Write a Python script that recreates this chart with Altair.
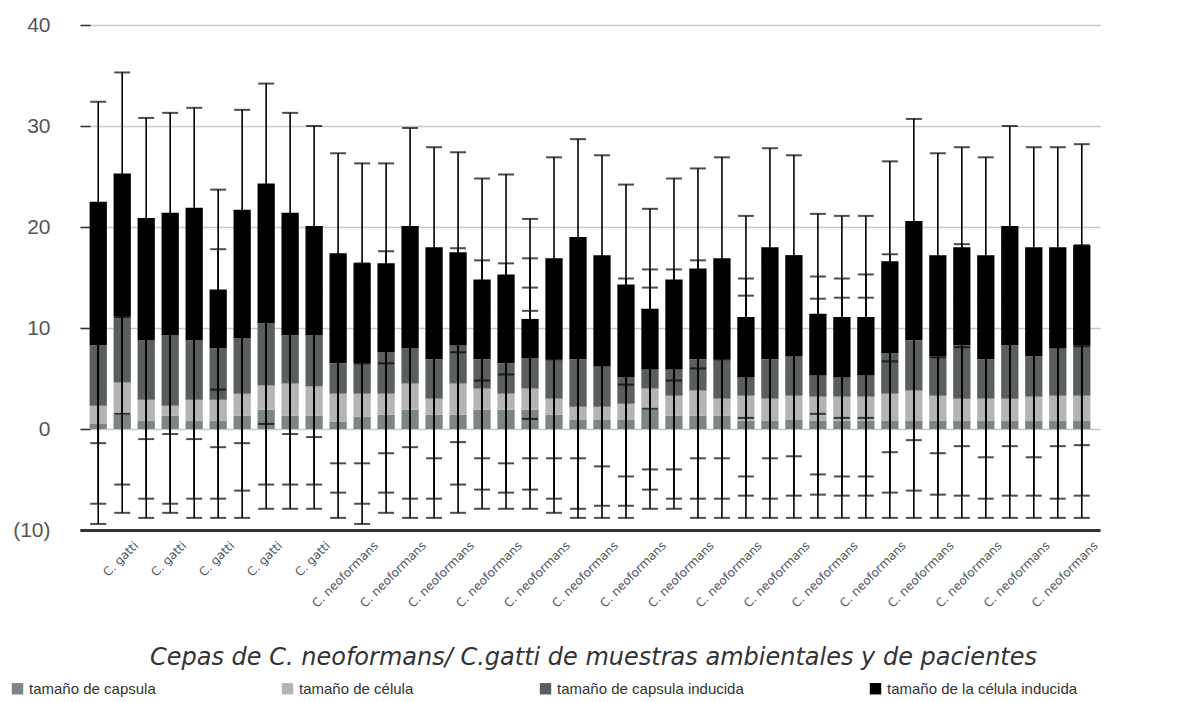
import altair as alt
import pandas as pd

# Strain groups (one bar per strain)
especie = ["C. gatti"] * 10 + ["C. neoformans"] * 32

series = [
    "tamaño de capsula",
    "tamaño de célula",
    "tamaño de capsula inducida",
    "tamaño de la célula inducida",
]
colores = ["#7e8684", "#b4b4b4", "#5a5e5d", "#000000"]

# Stacked segment heights per strain
capsula = [0.5, 1.4, 0.8, 1.3, 0.8, 0.8, 1.3, 1.9, 1.3, 1.3, 0.7, 1.2, 1.4, 1.9,
           1.4, 1.4, 1.9, 1.9, 1.9, 1.4, 0.9, 0.9, 0.9, 1.9, 1.3, 1.3, 1.3, 0.8,
           0.8, 0.9, 0.8, 0.8, 0.8, 0.8, 0.8, 0.8, 0.8, 0.8, 0.8, 0.8, 0.8, 0.8]
celula = [1.8, 3.2, 2.1, 1.0, 2.1, 2.1, 2.2, 2.4, 3.2, 2.9, 2.8, 2.3, 2.1, 2.6,
          1.6, 3.1, 2.1, 1.6, 2.1, 1.6, 1.3, 1.3, 1.6, 2.1, 2.0, 2.5, 1.7, 2.5,
          2.2, 2.4, 2.4, 2.4, 2.4, 2.7, 3.0, 2.5, 2.2, 2.2, 2.2, 2.4, 2.5, 2.5]
capsula_ind = [6.0, 6.6, 5.9, 7.0, 5.9, 5.1, 5.5, 6.2, 4.8, 5.1, 3.0, 3.0, 4.1, 3.5,
               3.9, 3.8, 2.9, 3.0, 3.0, 3.9, 4.7, 4.0, 2.6, 1.9, 2.6, 3.1, 3.9, 1.8,
               3.9, 3.9, 2.1, 1.9, 2.1, 4.0, 5.0, 3.9, 5.3, 3.9, 5.3, 4.0, 4.7, 5.0]
celula_ind = [14.2, 14.1, 12.1, 12.1, 13.1, 5.8, 12.7, 13.8, 12.1, 10.8, 10.9, 9.9, 8.8, 12.1,
              11.1, 9.2, 7.9, 8.8, 3.9, 10.0, 12.1, 11.0, 9.2, 6.0, 8.9, 9.0, 10.0, 6.0,
              11.1, 10.0, 6.1, 6.0, 5.8, 9.1, 11.8, 10.0, 9.7, 10.3, 11.8, 10.8, 10.0, 9.9]

# Standard deviations for each segment
err_capsula = [9.9, 9.7, 9.6, 9.6, 9.6, 9.6, 10.1, 9.8, 9.2, 9.2, 9.5, 10.6, 9.7, 10.7,
               10.2, 9.7, 9.8, 9.8, 9.8, 9.7, 9.7, 9.7, 9.7, 9.8, 9.2, 10.1, 10.1, 9.6,
               9.6, 9.7, 9.6, 9.6, 9.6, 9.6, 9.6, 9.6, 9.6, 9.6, 9.6, 9.6, 9.6, 9.6]
err_celula = [9.7, 10.1, 9.8, 9.7, 9.8, 9.8, 9.6, 9.8, 10.0, 9.7, 9.8, 10.9, 9.8, 11.4,
              9.9, 10.0, 10.0, 9.8, 10.0, 9.9, 10.1, 9.8, 10.1, 10.0, 10.2, 10.7, 9.9, 9.9,
              9.9, 9.9, 9.7, 9.8, 9.8, 9.8, 9.9, 9.8, 9.6, 9.9, 9.6, 9.8, 10.2, 9.9]
err_capsula_ind = [9.7, 9.7, 9.8, 9.8, 9.8, 9.8, 10.4, 10.0, 9.8, 10.1, 9.9, 9.9, 10.0, 9.8,
                   9.8, 9.6, 9.8, 9.9, 9.9, 9.8, 9.8, 9.9, 9.8, 9.9, 9.9, 9.8, 9.8, 9.8,
                   9.8, 9.9, 9.8, 9.8, 10.0, 9.8, 9.9, 9.6, 10.0, 9.7, 10.0, 10.0, 9.7, 9.9]
err_celula_ind = [9.9, 10.0, 9.9, 9.9, 9.9, 9.9, 9.9, 9.9, 9.9, 9.9, 9.9, 9.9, 9.9, 9.7,
                  9.9, 9.9, 10.0, 9.9, 9.9, 10.0, 9.7, 9.9, 9.9, 9.9, 10.0, 9.9, 10.0, 10.0,
                  9.8, 9.9, 9.9, 10.0, 10.0, 9.9, 10.1, 10.1, 9.9, 9.7, 9.9, 9.9, 9.9, 10.0]

y_ticks = [-10, 0, 10, 20, 30, 40]

# Unique id per strain; the label shows only the species name
cepas = [f"{e}#{i + 1:02d}" for i, e in enumerate(especie)]

valores = [capsula, celula, capsula_ind, celula_ind]
errores = [err_capsula, err_celula, err_capsula_ind, err_celula_ind]

filas, filas_err = [], []
for i, c in enumerate(cepas):
    base = 0.0
    for k in range(4):
        v = valores[k][i]
        tope = base + v
        filas.append({"cepa": c, "serie": series[k], "orden": k, "valor": v})
        filas_err.append({"cepa": c, "serie": series[k],
                          "lo": tope - errores[k][i], "hi": tope + errores[k][i]})
        base = tope

df = pd.DataFrame(filas)
df_err = pd.DataFrame(filas_err)

x_scale = alt.Scale(paddingInner=0.28, paddingOuter=0.4)
y_scale = alt.Scale(domain=[-10, 40], nice=False, zero=False)

x_axis = alt.Axis(
    values=cepas[1::2],
    labelExpr="split(datum.value, '#')[0]",
    labelAngle=-45, labelAlign="right", labelBaseline="middle",
    labelOffset=14, labelPadding=13,
    labelFont="DejaVu Sans", labelFontSize=12, labelColor="#555555",
    ticks=False, grid=False,
    domainColor="#333333", domainWidth=3,
    title="Cepas de C. neoformans/ C.gatti de muestras ambientales y de pacientes",
    titleFont="DejaVu Sans", titleFontSize=24, titleFontStyle="italic",
    titleFontWeight="normal", titleColor="#333333",
    titleX=513, titleY=115, titleAlign="center", titleBaseline="top",
)

y_axis = alt.Axis(
    values=y_ticks, title=None,
    labelExpr="datum.value < 0 ? '(' + abs(datum.value) + ')' : datum.label",
    labelFont="Liberation Sans", labelFontSize=21, labelColor="#555555",
    labelPadding=30, offset=-10,
    tickSize=10, tickColor="#333333", tickWidth=1.5,
    domain=False, gridColor="#c8c8c8", gridWidth=1.5,
)

x_enc = alt.X("cepa:N", sort=cepas, scale=x_scale, axis=x_axis)

barras = alt.Chart(df).mark_bar().encode(
    x=x_enc,
    y=alt.Y("valor:Q", stack="zero", scale=y_scale, axis=y_axis),
    color=alt.Color(
        "serie:N", scale=alt.Scale(domain=series, range=colores),
        legend=alt.Legend(
            title=None, orient="none", legendX=-70, legendY=656,
            direction="horizontal", columns=4, columnPadding=124,
            symbolType="square", symbolSize=130, symbolStrokeWidth=0,
            labelFont="Liberation Sans", labelFontSize=15, labelColor="#333333",
            labelLimit=0, padding=0,
        ),
    ),
    order=alt.Order("orden:Q", sort="ascending"),
)

reglas = alt.Chart(df_err).mark_rule(color="black", strokeWidth=1.6).encode(
    x=x_enc,
    y=alt.Y("lo:Q", scale=y_scale, axis=y_axis),
    y2="hi:Q",
)

tapas_sup = alt.Chart(df_err).mark_tick(color="black", thickness=2, size=16).encode(
    x=x_enc,
    y=alt.Y("hi:Q", scale=y_scale, axis=y_axis),
)

tapas_inf = alt.Chart(df_err).mark_tick(color="black", thickness=2, size=16).encode(
    x=x_enc,
    y=alt.Y("lo:Q", scale=y_scale, axis=y_axis),
)

chart = (
    alt.layer(barras, reglas, tapas_sup, tapas_inf)
    .properties(
        width=1020, height=505, autosize="none",
        padding={"left": 80, "top": 25, "right": 77, "bottom": 172},
        background="white",
    )
    .configure_view(stroke=None)
)

chart.save("out.html", embed_options={"renderer": "svg", "actions": False})
